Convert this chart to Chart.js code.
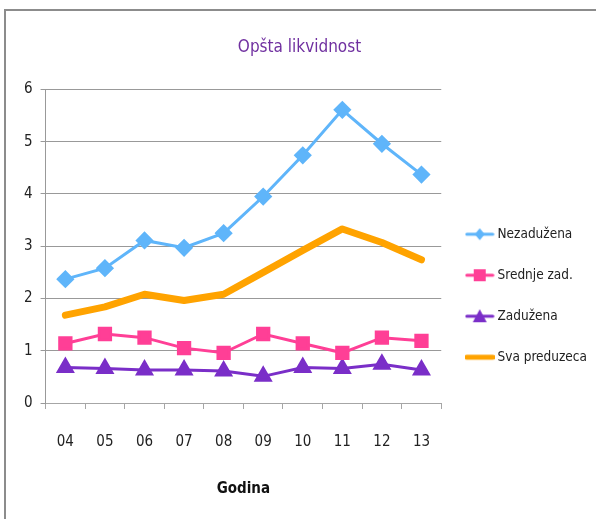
<!DOCTYPE html>
<html>
<head>
<meta charset="utf-8">
<script src="https://cdn.jsdelivr.net/npm/chart.js@4/dist/chart.umd.min.js"></script>
<style>
  html, body { margin: 0; padding: 0; background: #fff; }
  #wrap { position: relative; width: 596px; height: 519px; overflow: hidden; }
  #frame { position: absolute; left: 4px; top: 9px; width: 700px; height: 700px; border: 2px solid #8c8c8c; }
  canvas { position: absolute; left: 0; top: 0; }
</style>
</head>
<body>
<div id="wrap">
  <div id="frame"></div>
  <canvas id="myLineChart" width="596" height="519"></canvas>
</div>
<script>
// Opšta likvidnost po godinama
const years = ['04', '05', '06', '07', '08', '09', '10', '11', '12', '13'];
const nezaduzena = [2.37, 2.58, 3.11, 2.97, 3.25, 3.95, 4.74, 5.61, 4.96, 4.37];
const srednjeZad = [1.14, 1.32, 1.25, 1.05, 0.96, 1.32, 1.14, 0.96, 1.25, 1.19];
const zaduzena = [0.68, 0.66, 0.63, 0.63, 0.61, 0.51, 0.68, 0.66, 0.74, 0.63];
const svaPreduzeca = [1.68, 1.84, 2.08, 1.96, 2.08, 2.50, 2.92, 3.33, 3.07, 2.74];

const FONT = "'DejaVu Sans Condensed', 'Liberation Sans', sans-serif";

// small legend symbols: line with marker in the middle
function legendIcon(color, width, style) {
    const c = document.createElement('canvas');
    c.width = 30; c.height = 18;
    const g = c.getContext('2d');
    g.strokeStyle = color; g.fillStyle = color;
    g.lineWidth = width; g.lineCap = 'round';
    g.beginPath(); g.moveTo(2, 9); g.lineTo(28, 9); g.stroke();
    g.beginPath();
    if (style === 'rectRot') {
        g.moveTo(15, 3); g.lineTo(20, 9); g.lineTo(15, 15); g.lineTo(10, 9);
    } else if (style === 'rect') {
        g.rect(9, 3, 12, 12);
    } else if (style === 'triangle') {
        g.moveTo(15, 2); g.lineTo(22, 15); g.lineTo(8, 15);
    }
    g.closePath();
    if (style) g.fill();
    return c;
}

// give the legend a bit more room so the last label is not clipped
const legendRoom = {
    id: 'legendRoom',
    afterUpdate(chart) {
        chart.legend.right += 10;
        chart.legend.width += 10;
    }
};

const ctx = document.getElementById('myLineChart').getContext('2d');
const myLineChart = new Chart(ctx, {
    type: 'line',
    data: {
        labels: years,
        datasets: [{
            label: 'Nezadužena',
            data: nezaduzena,
            borderColor: '#5fb5fa',
            backgroundColor: '#5fb5fa',
            borderWidth: 3,
            pointStyle: 'rectRot',
            pointRadius: 7,
            icon: legendIcon('#5fb5fa', 3, 'rectRot')
        }, {
            label: 'Srednje zad.',
            data: srednjeZad,
            borderColor: '#ff3f96',
            backgroundColor: '#ff3f96',
            borderWidth: 3,
            pointStyle: 'rect',
            pointRadius: 8,
            icon: legendIcon('#ff3f96', 3, 'rect')
        }, {
            label: 'Zadužena',
            data: zaduzena,
            borderColor: '#7a2ec8',
            backgroundColor: '#7a2ec8',
            borderWidth: 3,
            pointStyle: 'triangle',
            pointRadius: 8,
            icon: legendIcon('#7a2ec8', 3, 'triangle')
        }, {
            label: 'Sva preduzeca',
            data: svaPreduzeca,
            borderColor: '#ffa300',
            backgroundColor: '#ffa300',
            borderWidth: 7,
            borderCapStyle: 'round',
            borderJoinStyle: 'round',
            pointRadius: 0,
            icon: legendIcon('#ffa300', 5, null)
        }]
    },
    plugins: [legendRoom],
    options: {
        responsive: false,
        animation: false,
        layout: { padding: { left: 16, right: 13, top: 10, bottom: 21 } },
        plugins: {
            title: {
                display: true,
                text: 'Opšta likvidnost',
                color: '#7030a0',
                font: { family: FONT, size: 17, weight: 'normal' },
                padding: { top: 27, bottom: 32 }
            },
            legend: {
                position: 'right',
                align: 'start',
                title: { display: true, text: '', font: { size: 10 }, padding: { top: 178, bottom: 0 } },
                labels: {
                    usePointStyle: true,
                    pointStyleWidth: 22,
                    padding: 27.5,
                    color: '#222',
                    font: { family: FONT, size: 13.5 },
                    generateLabels: function (chart) {
                        return chart.data.datasets.map(function (ds, i) {
                            return {
                                text: ds.label,
                                pointStyle: ds.icon,
                                fillStyle: ds.borderColor,
                                strokeStyle: ds.borderColor,
                                lineWidth: 0,
                                fontColor: '#222',
                                hidden: false,
                                datasetIndex: i
                            };
                        });
                    }
                }
            },
            tooltip: { enabled: false }
        },
        scales: {
            x: {
                offset: true,
                grid: { offset: true, drawOnChartArea: false, color: '#a6a6a6', tickLength: 6 },
                border: { color: '#a6a6a6' },
                ticks: { color: '#222', padding: 24, font: { family: FONT, size: 15 } },
                title: {
                    display: true,
                    text: 'Godina',
                    color: '#111',
                    font: { family: FONT, size: 15, weight: 'bold' },
                    padding: { top: 5, bottom: 0 }
                }
            },
            y: {
                min: 0,
                max: 6,
                grid: { color: '#999', tickLength: 5 },
                border: { color: '#999' },
                ticks: { stepSize: 1, color: '#222', padding: 8, font: { family: FONT, size: 15 } }
            }
        }
    }
});
</script>
</body>
</html>
